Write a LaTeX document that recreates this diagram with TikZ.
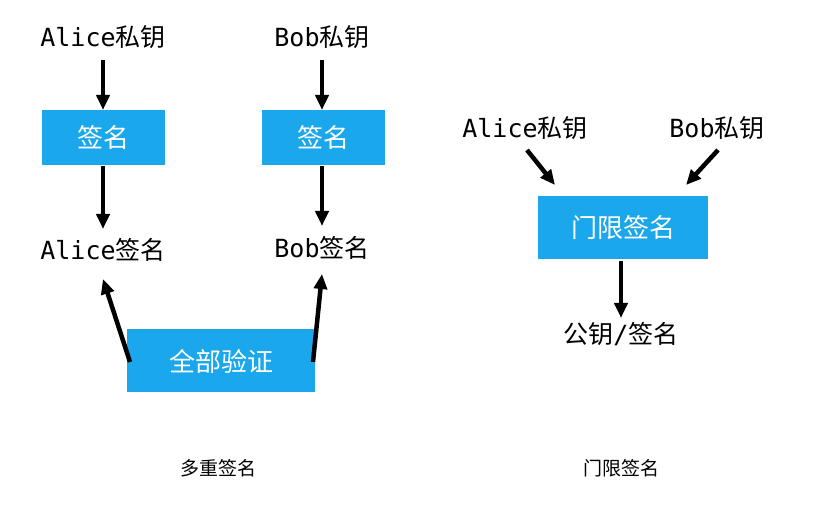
\documentclass[tikz,border=0pt]{standalone}
\usepackage{fontspec}
\setmainfont{DejaVu Sans Mono}
\newfontfamily\cjk{Noto Sans CJK SC}
\usetikzlibrary{arrows.meta}
\definecolor{boxblue}{HTML}{1AA7EC}
\begin{document}
\begin{tikzpicture}[x=1pt,y=-1pt,
  lbl/.style={font=\fontsize{25}{28}\selectfont, inner sep=0pt},
  bx/.style={fill=boxblue, text=white, font=\cjk\fontsize{26}{28}\selectfont, inner sep=0pt},
  arr/.style={line width=4.5pt, -{Triangle[length=15pt,width=13pt]}},
  captxt/.style={font=\cjk\fontsize{19}{22}\selectfont, inner sep=0pt}]
\useasboundingbox (0,0) rectangle (815,505);
% left
\node[lbl] (ak) at (103,37) {Alice{\cjk 私钥}};
\node[lbl] (bk) at (322,37) {Bob{\cjk 私钥}};
\node[bx, minimum width=123pt, minimum height=55pt] (s1) at (103,138) {签名};
\node[bx, minimum width=123pt, minimum height=55pt] (s2) at (323,138) {签名};
\node[lbl] (as) at (103,250) {Alice{\cjk 签名}};
\node[lbl] (bs) at (322,248) {Bob{\cjk 签名}};
\node[bx, minimum width=188pt, minimum height=63pt] (v) at (221,361) {全部验证};
\coordinate (p1) at (103,60);  \coordinate (q1) at (103,110);
\coordinate (p2) at (322,60);  \coordinate (q2) at (322,110);
\coordinate (p3) at (103,166); \coordinate (q3) at (103,229);
\coordinate (p4) at (322,166); \coordinate (q4) at (322,226);
\coordinate (v1) at (130,362); \coordinate (w1) at (103,279);
\coordinate (v2) at (313,362); \coordinate (w2) at (322,274);
\draw[arr] (p1) -- (q1);
\draw[arr] (p2) -- (q2);
\draw[arr] (p3) -- (q3);
\draw[arr] (p4) -- (q4);
\draw[arr] (v1) -- (w1);
\draw[arr] (v2) -- (w2);
\node[captxt] (c1) at (218,468) {多重签名};
% right
\node[lbl] (ak2) at (525,128) {Alice{\cjk 私钥}};
\node[lbl] (bk2) at (717,128) {Bob{\cjk 私钥}};
\node[bx, minimum width=170pt, minimum height=63pt] (t) at (623,228) {门限签名};
\node[lbl] (ps) at (621,334) {{\cjk 公钥}/{\cjk 签名}};
\coordinate (a1) at (527,150); \coordinate (a2) at (555,185);
\coordinate (b1) at (718,150); \coordinate (b2) at (686,185);
\coordinate (r1) at (621,261); \coordinate (r2) at (621,318);
\draw[arr] (a1) -- (a2);
\draw[arr] (b1) -- (b2);
\draw[arr] (r1) -- (r2);
\node[captxt] (c2) at (621,468) {门限签名};
\end{tikzpicture}
\end{document}
